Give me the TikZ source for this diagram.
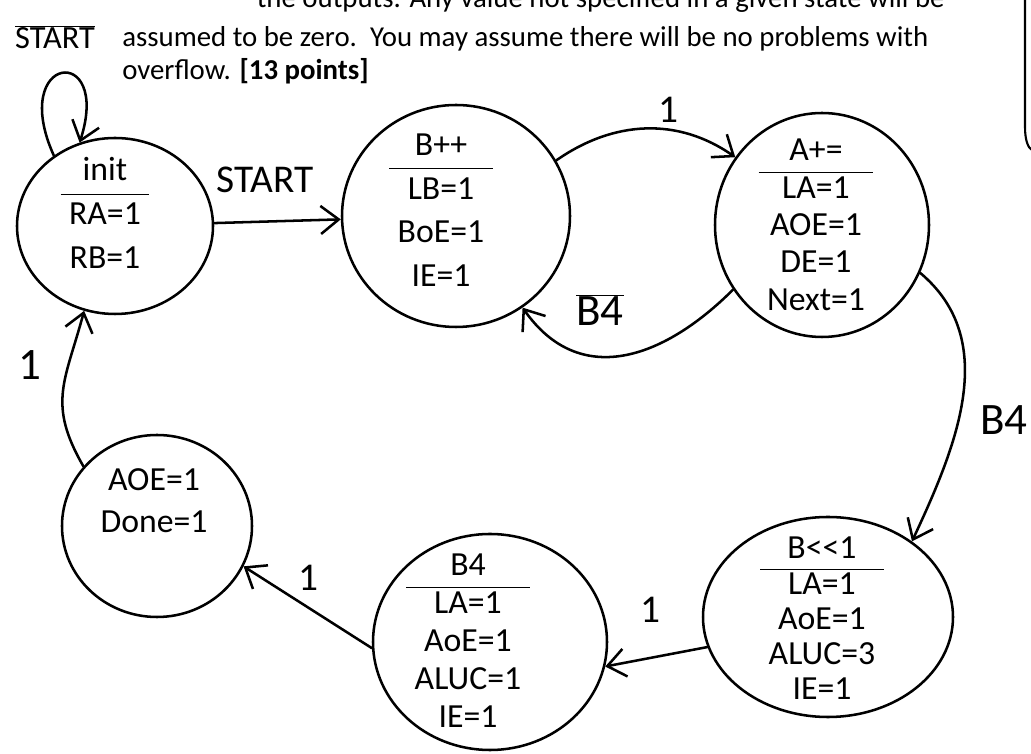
\documentclass[tikz,border=0pt]{standalone}
\usepackage{fontspec}
\setmainfont{Carlito}
\usetikzlibrary{arrows.meta,shapes.geometric}

\begin{document}
\begin{tikzpicture}[line cap=round,line join=round,>={Straight Barb[length=4.5mm,width=7mm]},x=1cm,y=1cm,
    state/.style={draw,ellipse,line width=1.8pt,inner sep=0pt},
    hand/.style={inner sep=0pt,font=\fontsize{24}{30}\selectfont},
    lbl/.style={inner sep=0pt,font=\fontsize{28}{30}\selectfont},
    printed/.style={inner sep=0pt,font=\fontsize{20.5}{24}\selectfont},
    trans/.style={->,line width=1.8pt}]
                \useasboundingbox (0,0) rectangle (25.775,18.85);
                \clip (0,0) rectangle (25.775,18.85);
                \node [printed,anchor=base east] (txt-a) at (23.625,18.66) {the outputs. Any value not specified in a given state will be};
                \node [printed,anchor=base west] (txt-b) at (3.05,17.675) {assumed to be zero.\ \ You may assume there will be no problems with};
                \node [printed,anchor=base west] (txt-c) at (3.05,16.85) {overflow. \textbf{[13 points]}};
                \draw [line width=1.5pt] (25.625,18.9) -- (25.625,15.675) .. controls (25.625,15.35) and (25.7,15.15) .. (25.8,15.1);
                \node [lbl,font=\fontsize{23}{24}\selectfont] (nstart-lbl) at (1.375,17.92) {\(\overline{\mbox{START}}\)};
                \node [state,minimum width=4.9cm,minimum height=4.4cm] (init) at (2.875,13.2) {};
                \node [state,minimum width=5.7cm,minimum height=5.55cm] (incb) at (11.4,13.45) {};
                \node [state,minimum width=5.35cm,minimum height=5.6cm] (adda) at (20.55,13.225) {};
                \node [state,minimum width=6.25cm,minimum height=5.0cm] (shiftb) at (20.7,3.425) {};
                \node [state,minimum width=5.85cm,minimum height=5.4cm] (bfour) at (12.25,2.8) {};
                \node [state,minimum width=4.75cm,minimum height=4.55cm] (done) at (3.925,5.7) {};
                \node [hand,font=\fontsize{24}{31}\selectfont] (init-txt) at (2.625,13.45) {\begin{tabular}{c}init\\\hline RA=1\\RB=1\end{tabular}};
                \node [hand,font=\fontsize{24}{31}\selectfont] (incb-txt) at (11.025,13.55) {\begin{tabular}{c}B++\\\hline LB=1\\BoE=1\\IE=1\end{tabular}};
                \node [hand,font=\fontsize{24}{26.5}\selectfont] (adda-txt) at (20.4,13.15) {\begin{tabular}{c}A+=\\\hline LA=1\\AOE=1\\DE=1\\Next=1\end{tabular}};
                \node [hand,font=\fontsize{24}{25}\selectfont] (shiftb-txt) at (20.55,3.3) {\begin{tabular}{c}B<{}<1\\\hline LA=1\\AoE=1\\ALUC=3\\IE=1\end{tabular}};
                \node [hand,font=\fontsize{24}{27}\selectfont] (bfour-txt) at (11.7,2.75) {\begin{tabular}{c}B4\\\hline LA=1\\AoE=1\\ALUC=1\\IE=1\end{tabular}};
                \node [hand,font=\fontsize{24}{30}\selectfont] (done-txt) at (3.85,6.275) {\begin{tabular}{c}AOE=1\\Done=1\end{tabular}};
                \draw [trans] (init.131) .. controls (0.2,17.5) and (2.8,17.8) .. (init.113);
                \draw [trans] (init) -- (incb);
                \draw [trans] (incb.29) to[out=35,in=145] (adda.142);
                \draw [trans] (adda.216) to[out=225,in=305,looseness=1.2] (incb.306);
                \draw [trans] (adda.-26) to[out=-40,in=65] (shiftb.42);
                \draw [trans] (shiftb.194) -- (bfour.-12);
                \draw [trans] (bfour.183) -- (done.-25);
                \draw [trans] (done.141) to[out=120,in=255,looseness=1.2] (init.250);
                \node [lbl] (start-lbl) at (6.625,14.35) {START};
                \node [lbl] (one-a) at (16.7,16.1) {1};
                \node [lbl,font=\fontsize{32}{34}\selectfont] (nbfour-lbl) at (15.0,11.1) {\(\overline{\mbox{B4}}\)};
                \node [lbl,font=\fontsize{32}{34}\selectfont,anchor=west] (bfour-lbl) at (24.5,8.35) {B4};
                \node [lbl] (one-b) at (16.25,3.6) {1};
                \node [lbl] (one-c) at (7.7,4.4) {1};
                \node [lbl,font=\fontsize{32}{34}\selectfont] (one-d) at (0.75,9.725) {1};
\end{tikzpicture}
\end{document}
